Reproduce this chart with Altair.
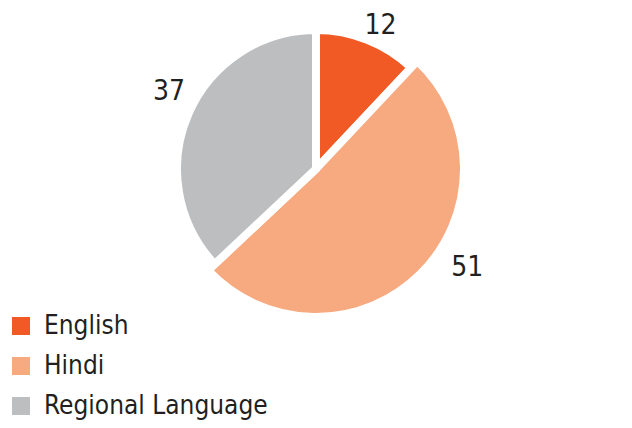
import altair as alt
import pandas as pd

languages = ["English", "Hindi", "Regional Language"]
shares = [12, 51, 37]
colors = ["#F15A24", "#F7A97F", "#BCBEC0"]

df = pd.DataFrame({"language": languages, "share": shares, "rank": list(range(len(languages)))})

FONT = "DejaVu Sans Condensed, Liberation Sans Narrow, Roboto, sans-serif"
TXT = "#231F20"

base = alt.Chart(df).encode(
    theta=alt.Theta("share:Q", stack=True),
    order=alt.Order("rank:Q"),
    x=alt.value(308),
    y=alt.value(161),
)

pie = base.mark_arc(
    stroke="white",
    strokeWidth=8,
    outerRadius=alt.expr("datum.language === 'Hindi' ? 148 : 139"),
).encode(
    color=alt.Color(
        "language:N",
        scale=alt.Scale(domain=languages, range=colors),
        legend=alt.Legend(
            title=None,
            orient="none",
            legendX=0,
            legendY=305,
            symbolType="square",
            symbolSize=324,
            symbolStrokeWidth=0,
            symbolOpacity=1,
            labelFont=FONT,
            labelFontSize=26,
            labelColor=TXT,
            labelOffset=10,
            labelLimit=0,
            rowPadding=14,
            padding=0,
        ),
    )
)

labels = base.mark_text(
    radius=170,
    font=FONT,
    fontSize=28,
    color=TXT,
    align="center",
    baseline="middle",
    dx=alt.expr("datum.language === 'English' ? 2 : datum.language === 'Hindi' ? 31 : 9"),
    dy=alt.expr("datum.language === 'English' ? 15 : datum.language === 'Hindi' ? -21 : -9"),
).encode(text="share:Q")

chart = (
    alt.layer(pie, labels)
    .properties(width=616, height=412, padding=0, autosize=alt.AutoSizeParams(type="none"))
    .configure_view(stroke=None)
)

chart.save("out.html", embed_options={"renderer": "svg", "actions": False})
